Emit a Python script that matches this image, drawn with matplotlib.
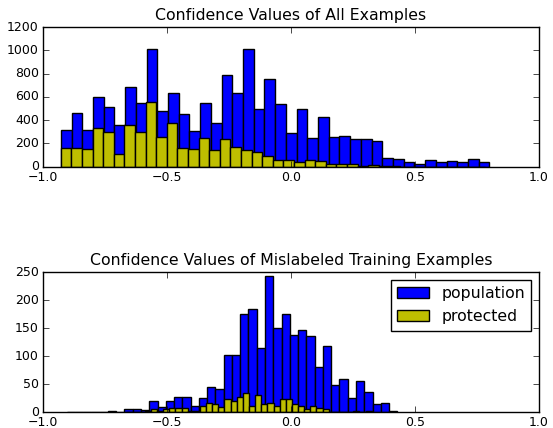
import matplotlib
matplotlib.use("Agg")
import matplotlib.pyplot as plt
import numpy as np

plt.style.use("classic")

# --- Data (bin counts, 40 bins each) ---
all_pop_range = (-0.928, 0.800)
all_pop_counts = [316, 459, 317, 598, 510, 358, 687, 550, 1015, 479,
                  634, 451, 307, 550, 378, 784, 633, 1008, 495, 750,
                  535, 287, 494, 243, 423, 254, 260, 237, 240, 223,
                  71, 66, 43, 27, 57, 43, 51, 43, 63, 43]

all_prot_range = (-0.928, 0.781)
all_prot_counts = [163, 158, 152, 333, 295, 113, 360, 295, 555, 252,
                   372, 163, 152, 244, 140, 238, 169, 140, 123, 95,
                   54, 60, 43, 57, 49, 27, 20, 24, 6, 18,
                   4, 2, 0, 1, 0, 0, 1, 0, 0, 1]

mis_pop_range = (-0.905, 0.4285)
mis_pop_counts = [1, 0, 1, 0, 1, 3, 1, 5, 6, 4,
                  20, 9, 21, 28, 28, 12, 26, 45, 41, 102,
                  102, 176, 184, 115, 243, 150, 176, 138, 147, 136,
                  80, 119, 49, 60, 25, 55, 37, 15, 16, 2]

mis_prot_range = (-0.664, 0.325)
mis_prot_counts = [1, 1, 1, 3, 6, 2, 5, 7, 7, 7,
                   3, 2, 12, 17, 14, 9, 23, 20, 27, 35,
                   11, 30, 14, 16, 11, 23, 23, 14, 12, 6,
                   11, 8, 6, 1, 1, 0, 0, 2, 0, 2]


def draw_hist(ax, rng, counts, color, label):
    edges = np.linspace(rng[0], rng[1], len(counts) + 1)
    ax.hist(edges[:-1], bins=edges, weights=counts, color=color, label=label)


fig = plt.figure(figsize=(5.53, 4.28), dpi=100)
ax1 = fig.add_axes([0.0778, 0.6105, 0.897, 0.3264])
ax2 = fig.add_axes([0.0778, 0.0367, 0.897, 0.3271])

draw_hist(ax1, all_pop_range, all_pop_counts, "b", "population")
draw_hist(ax1, all_prot_range, all_prot_counts, "y", "protected")
ax1.set_xlim(-1.0, 1.0)
ax1.set_ylim(0, 1200)
ax1.set_title("Confidence Values of All Examples", fontsize=11.3)

draw_hist(ax2, mis_pop_range, mis_pop_counts, "b", "population")
draw_hist(ax2, mis_prot_range, mis_prot_counts, "y", "protected")
ax2.set_xlim(-1.0, 1.0)
ax2.set_ylim(0, 250)
ax2.set_title("Confidence Values of Mislabeled Training Examples", fontsize=11.3)
ax2.legend(loc="upper right", fontsize=11.3)

for ax in (ax1, ax2):
    ax.tick_params(labelsize=9, pad=3)
    ax.set_xticks([-1.0, -0.5, 0.0, 0.5, 1.0])

fig.savefig("out.png", dpi=100)
